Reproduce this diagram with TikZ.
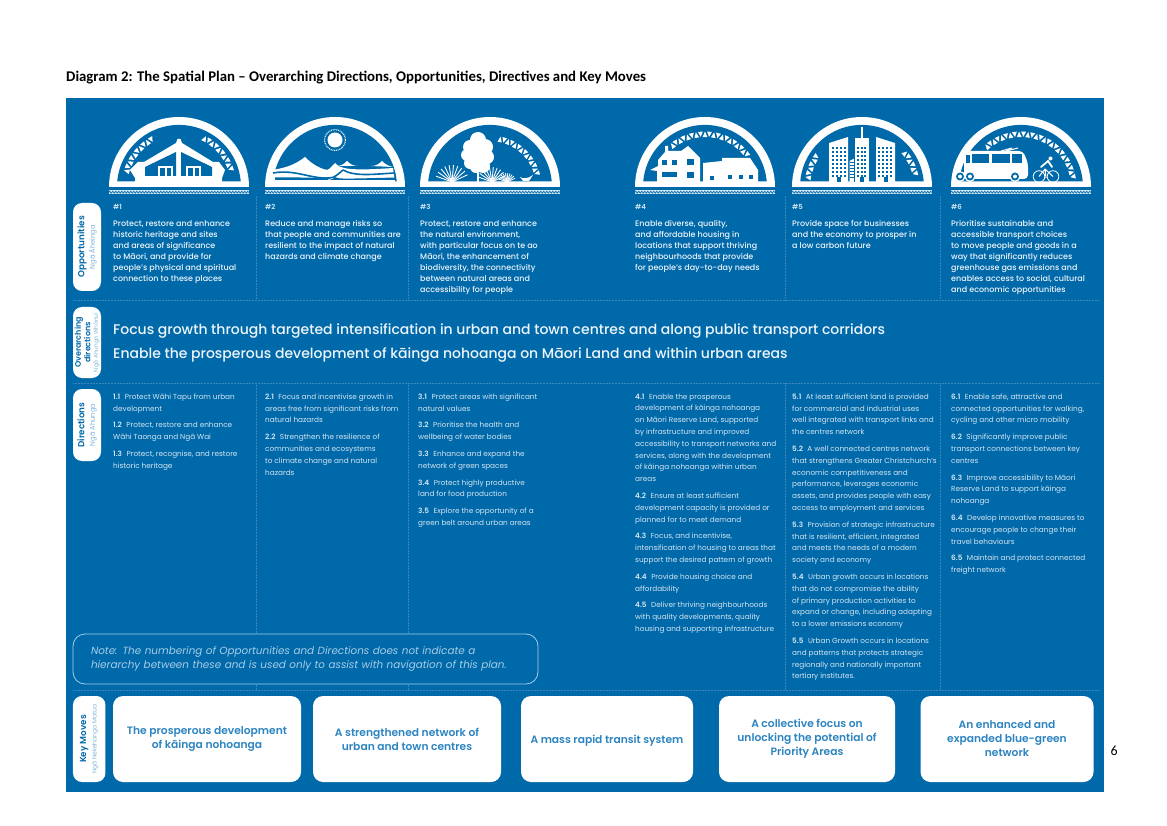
\documentclass[tikz,border=0pt]{standalone}
\usepackage{fontspec}
\setmainfont{Poppins}[BoldFont={Poppins SemiBold}]
\newfontfamily\titlefont{Carlito}
\newfontfamily\mediumfont{Poppins Medium}
\usetikzlibrary{decorations.pathmorphing}
\definecolor{mainblue}{HTML}{0069AA}
\definecolor{sepblue}{HTML}{3B86BA}
\definecolor{paleblue}{HTML}{D5E6F2}
\definecolor{oppcol}{HTML}{EEF5FA}
\definecolor{notecol}{HTML}{A9CDE6}
\definecolor{movecol}{HTML}{2C84C0}
\definecolor{subcol}{HTML}{7DB4DA}
\tikzset{
opptext/.style={anchor=north west,inner sep=0pt,align=left,text=oppcol,font=\mediumfont\fontsize{8}{10.9}\selectfont},
dirtext/.style={anchor=north west,inner sep=0pt,align=left,text=paleblue,font=\fontsize{7.3}{11.8}\selectfont},
numlabel/.style={anchor=west,inner sep=0pt,text=paleblue,font=\bfseries\fontsize{7}{8}\selectfont},
pill/.style={fill=white,rounded corners=9pt,rotate=90,align=center,inner sep=0pt,text=mainblue,font=\bfseries\fontsize{8.8}{10.5}\selectfont},
movebox/.style={fill=white,rounded corners=10pt,align=center,inner sep=0pt,minimum height=86pt,text=movecol,font=\bfseries\fontsize{10.7}{14}\selectfont,execute at begin node={\rule{0pt}{11.5pt}}},
headline/.style={anchor=west,inner sep=0pt,text=oppcol,font=\mediumfont\fontsize{14}{16}\selectfont},
seprule/.style={sepblue,line width=.5pt,densely dotted}
}
\newcommand{\subpill}[2][6.8]{{\mdseries\color{subcol}\fontsize{#1}{7}\selectfont #2}}
\newcommand{\dirnum}[1]{\textbf{#1}\hspace{4.5pt}}
% dome with its band, origin on the base line
\newcommand{\domeshape}[1]{
\begin{scope}[shift={(#1,187)}]
\fill[white] (-70,0) arc (180:360:70) -- cycle;
\fill[mainblue] (-61.76,-5.5) arc (185:355:62) -- cycle;
\fill[white!85!mainblue] (-70,3) rectangle (70,7.5);
\draw[mainblue,line width=.7pt,decorate,decoration={zigzag,segment length=3pt,amplitude=1pt}] (-70,5.2) -- (70,5.2);
\end{scope}
}
% small triangles along an arc
\newcommand{\trianglearc}[4]{
\foreach \a in {#1,#2,...,#3}{
\fill[white] ({\a-2.7}:#4) -- ({\a+2.7}:#4) -- (\a:#4+5.5) -- cycle;
\fill[white] ({\a+2.1}:#4+5.5) -- ({\a+7.2}:#4+5.5) -- ({\a+4.7}:#4+.3) -- cycle;
}
}
\begin{document}
\begin{tikzpicture}[x=1pt,y=-1pt]
\useasboundingbox (0,0) rectangle (1167,826);

\node (title) [anchor=west,inner sep=0pt,font=\titlefont\bfseries\fontsize{14.8}{16}\selectfont] at (66,78) {Diagram 2: The Spatial Plan – Overarching Directions, Opportunities, Directives and Key Moves};
\node (pagenum) [anchor=west,inner sep=0pt,font=\titlefont\fontsize{14}{16}\selectfont] at (1110.5,751) {6};

\fill[mainblue] (66,98) rectangle (1104,791.5);

% rules
\foreach \ry in {300,383,690}
\draw[seprule] (73,\ry) -- (1100,\ry);
\foreach \sx in {256,408,785,940}{
\draw[seprule] (\sx,196) -- (\sx,300);
\draw[seprule] (\sx,383) -- (\sx,690);
}

\foreach \cx in {179,335,490,705,862,1021}{
\domeshape{\cx}
}

% whare
\begin{scope}[shift={(179,187)}]
\trianglearc{197}{206.5}{240}{52}
\trianglearc{298}{307.5}{341}{52}
\fill[white] (-1.5,-48) -- (1.5,-48) -- (3,-44) -- (34,-25) -- (40,-25) -- (46,-17) -- (43,-9) -- (43,-5) -- (-44,-5) -- (-44,-9) -- (-49,-17) -- (-41,-25) -- (-35,-25) -- (-3,-44) -- cycle;
\fill[mainblue] (-3,-35) -- (-34,-20) -- (-34,-11) -- (-3,-11) -- cycle;
\fill[mainblue] (2,-35) -- (33,-20) -- (33,-11) -- (2,-11) -- cycle;
\fill[white] (-21,-21) rectangle (-6,-11);
\fill[white] (7,-21) rectangle (22,-11);
\fill[mainblue] (-19,-19) rectangle (-14.5,-11);
\fill[mainblue] (-12.5,-19) rectangle (-8,-11);
\fill[mainblue] (9,-19) rectangle (13.5,-11);
\fill[mainblue] (15.5,-19) rectangle (20,-11);
\end{scope}

% sun and waves
\begin{scope}[shift={(335,187)}]
\fill[white] (0,-47) circle (7.5);
\draw[white,line width=1pt,dash pattern=on 1pt off .8pt] (0,-47) circle (10.5);
\fill[white] (-62,-17) .. controls (-45,-20) and (-38,-24) .. (-30,-30) .. controls (-24,-24) and (-17,-19) .. (-8,-17) -- cycle;
\fill[white] (2,-21) .. controls (6,-21) and (9,-23) .. (12,-26) .. controls (15,-23) and (18,-21) .. (23,-21) -- cycle;
\fill[white] (36,-21) .. controls (41,-21) and (44,-23) .. (47,-26) .. controls (50,-23) and (53,-21) .. (58,-20) -- cycle;
\fill[white] (-62,-17) -- (-8,-17) .. controls (-5,-18) and (-3,-21) .. (0,-24) .. controls (5,-18) and (15,-16) .. (58,-19) -- (60,-5) -- (-62,-5) -- cycle;
\draw[mainblue,line width=1.6pt] (-62,-14) .. controls (-40,-18) and (-25,-8) .. (-6,-9) .. controls (0,-9) and (3,-13) .. (8,-17);
\draw[mainblue,line width=1.6pt] (8,-17) .. controls (20,-10) and (40,-13) .. (60,-14);
\fill[mainblue] (-60,-9.5) .. controls (-40,-10) and (-20,-9) .. (-10,-9) -- (-6,-7) .. controls (-3,-7) and (-1,-9) .. (0,-10) .. controls (3,-8) and (6,-8) .. (60,-9.5) -- (60,-7) -- (-60,-7) -- cycle;
\end{scope}

% tree, bushes and bird
\begin{scope}[shift={(490,187)}]
\trianglearc{282}{291.5}{346}{46}
\fill[white] (-12,-47) circle (8) (-20,-40) circle (7) (-5,-40) circle (8) (-23,-32) circle (6) (-3,-30) circle (7) (-13,-33) circle (11) (-20,-24) circle (6) (-7,-21) circle (7) (-14,-20) circle (6);
\draw[white,line width=1.5pt] (-12,-16) -- (-12,-5);
\foreach \a in {200,215,...,340}{
\draw[white,line width=.9pt] (-38,-5) -- ++(\a:17);
\draw[white,line width=.9pt] (2,-5) -- ++(\a:15);
\draw[white,line width=.8pt] (17,-5) -- ++(\a:9);
}
\fill[white] (30,-10) .. controls (33,-8) and (38,-8) .. (43,-12) -- (39,-6) -- (33,-6) -- cycle;
\end{scope}

% houses
\begin{scope}[shift={(705,187)}]
\trianglearc{232}{241.5}{320}{50}
\fill[white] (-47,-27) -- (-40,-35) -- (-40,-41) -- (-37,-41) -- (-37,-36) -- (-24,-36) -- (-17,-41) -- (-5,-29) -- (-5,-5) -- (-48,-5) -- (-48,-16) -- (-55,-17) -- (-47,-21) -- cycle;
\fill[mainblue] (-43.5,-27) rectangle (-38.5,-22);
\fill[mainblue] (-33.5,-27) rectangle (-28.5,-22);
\fill[mainblue] (-18.5,-28) rectangle (-11.5,-22);
\fill[mainblue] (-43.5,-15) rectangle (-28.5,-10);
\fill[mainblue] (-18.5,-15) rectangle (-11,-9);
\fill[white] (-2,-24) -- (17,-26) -- (17,-29) -- (45,-29) -- (53,-17) -- (53,-5) -- (-2,-5) -- cycle;
\foreach \dx/\dtop in {5/-11,23/-12,34/-12,44/-12}
\fill[mainblue] (\dx,\dtop) rectangle ++(3.5,4.5);
\end{scope}

% city
\begin{scope}[shift={(862,187)}]
\trianglearc{190}{199.5}{216}{52}
\trianglearc{322}{331.5}{346}{52}
\fill[white] (-33,-44) -- (-14,-50) -- (-14,-5) -- (-33,-5) -- cycle;
\fill[white] (14,-50) -- (33,-44) -- (33,-5) -- (14,-5) -- cycle;
\fill[white] (-7,-49) rectangle (7,-5);
\fill[white] (-.8,-60) rectangle (.8,-49);
\fill[white] (-12.5,-26) -- (-3,-31) -- (-3,-5) -- (-12.5,-5) -- cycle;
\fill[mainblue] (-8,-32) rectangle (-7,-5);
\foreach \wy in {-25,-22,...,-8}
\draw[mainblue,line width=.5pt] (-12.5,\wy) -- (-8,\wy);
\foreach \wx in {-30,-26,-22,-18,16,20,24,28,-5,-1.5,2}
\foreach \wy in {-40,-36,...,-12}
\fill[mainblue] (\wx,\wy) rectangle ++(2,2.2);
\fill[mainblue] (-25,-10) rectangle ++(3.5,5);
\fill[mainblue] (-1.7,-10) rectangle ++(3.5,5);
\fill[mainblue] (22,-10) rectangle ++(3.5,5);
\end{scope}

% bus and cyclist
\begin{scope}[shift={(1021,187)}]
\trianglearc{230}{239.5}{345}{50}
\draw[white,line width=1pt] (-20,-36) -- (-9,-39) (-15,-36) -- (-3,-39);
\fill[white,rounded corners=4pt] (-57,-36) -- (2,-36) -- (7,-24) -- (7,-8) -- (-57,-8) -- cycle;
\fill[mainblue] (-55,-32) -- (-51,-32) -- (-51,-24) -- (-55,-24) -- cycle;
\fill[mainblue] (-49,-33) rectangle (-32,-24);
\fill[mainblue] (-29.5,-33) rectangle (-11.5,-24);
\fill[mainblue] (-9,-33) rectangle (1,-24);
\foreach \wx in {-61,-51,-6}{
\fill[white] (\wx,-10.5) circle (5.5);
\fill[mainblue] (\wx,-10.5) circle (4);
\fill[white] (\wx,-10.5) circle (2);
}
\draw[white,line width=.8pt] (18,-10.5) circle (5.8) (32,-10.5) circle (5.8);
\draw[white,line width=1pt] (18,-10.5) -- (24,-18) -- (32,-10.5) (24,-18) -- (25,-9);
\draw[white,line width=1.8pt,line cap=round] (20,-20) -- (27,-26) -- (31,-20);
\fill[white] (29.5,-28.5) circle (2);
\end{scope}

% opportunities
\foreach \nx/\nn in {113/1,265/2,420/3,635/4,792/5,951/6}
\node (num\nn) [numlabel] at (\nx,207) {\#\nn};
\node (opp1) [opptext] at (113,220.5) {Protect, restore and enhance\\historic heritage and sites\\and areas of significance\\to Māori, and provide for\\people’s physical and spiritual\\connection to these places};
\node (opp2) [opptext] at (265,220.5) {Reduce and manage risks so\\that people and communities are\\resilient to the impact of natural\\hazards and climate change};
\node (opp3) [opptext] at (420,220.5) {Protect, restore and enhance\\the natural environment,\\with particular focus on te ao\\Māori, the enhancement of\\biodiversity, the connectivity\\between natural areas and\\accessibility for people};
\node (opp4) [opptext] at (635,220.5) {Enable diverse, quality,\\and affordable housing in\\locations that support thriving\\neighbourhoods that provide\\for people’s day-to-day needs};
\node (opp5) [opptext] at (792,220.5) {Provide space for businesses\\and the economy to prosper in\\a low carbon future};
\node (opp6) [opptext] at (951,220.5) {Prioritise sustainable and\\accessible transport choices\\to move people and goods in a\\way that significantly reduces\\greenhouse gas emissions and\\enables access to social, cultural\\and economic opportunities};

% overarching directions
\node (focus) [headline] at (113,331) {Focus growth through targeted intensification in urban and town centres and along public transport corridors};
\node (enable) [headline] at (113,355) {Enable the prosperous development of kāinga nohoanga on Māori Land and within urban areas};

% directions
\node (dir1) [dirtext] at (113,393.5) {\dirnum{1.1}Protect Wāhi Tapu from urban\\development\\[5pt]\dirnum{1.2}Protect, restore and enhance\\Wāhi Taonga and Ngā Wai\\[5pt]\dirnum{1.3}Protect, recognise, and restore\\historic heritage};
\node (dir2) [dirtext] at (265,393.5) {\dirnum{2.1}Focus and incentivise growth in\\areas free from significant risks from\\natural hazards\\[5pt]\dirnum{2.2}Strengthen the resilience of\\communities and ecosystems\\to climate change and natural\\hazards};
\node (dir3) [dirtext] at (418,393.5) {\dirnum{3.1}Protect areas with significant\\natural values\\[5pt]\dirnum{3.2}Prioritise the health and\\wellbeing of water bodies\\[5pt]\dirnum{3.3}Enhance and expand the\\network of green spaces\\[5pt]\dirnum{3.4}Protect highly productive\\land for food production\\[5pt]\dirnum{3.5}Explore the opportunity of a\\green belt around urban areas};
\node (dir4) [dirtext] at (635,393.5) {\dirnum{4.1}Enable the prosperous\\development of kāinga nohoanga\\on Māori Reserve Land, supported\\by infrastructure and improved\\accessibility to transport networks and\\services, along with the development\\of kāinga nohoanga within urban\\areas\\[5pt]\dirnum{4.2}Ensure at least sufficient\\development capacity is provided or\\planned for to meet demand\\[5pt]\dirnum{4.3}Focus, and incentivise,\\intensification of housing to areas that\\support the desired pattern of growth\\[5pt]\dirnum{4.4}Provide housing choice and\\affordability\\[5pt]\dirnum{4.5}Deliver thriving neighbourhoods\\with quality developments, quality\\housing and supporting infrastructure};
\node (dir5) [dirtext] at (792,393.5) {\dirnum{5.1}At least sufficient land is provided\\for commercial and industrial uses\\well integrated with transport links and\\the centres network\\[5pt]\dirnum{5.2}A well connected centres network\\that strengthens Greater Christchurch’s\\economic competitiveness and\\performance, leverages economic\\assets, and provides people with easy\\access to employment and services\\[5pt]\dirnum{5.3}Provision of strategic infrastructure\\that is resilient, efficient, integrated\\and meets the needs of a modern\\society and economy\\[5pt]\dirnum{5.4}Urban growth occurs in locations\\that do not compromise the ability\\of primary production activities to\\expand or change, including adapting\\to a lower emissions economy\\[5pt]\dirnum{5.5}Urban Growth occurs in locations\\and patterns that protects strategic\\regionally and nationally important\\tertiary institutes.};
\node (dir6) [dirtext] at (951,393.5) {\dirnum{6.1}Enable safe, attractive and\\connected opportunities for walking,\\cycling and other micro mobility\\[5pt]\dirnum{6.2}Significantly improve public\\transport connections between key\\centres\\[5pt]\dirnum{6.3}Improve accessibility to Māori\\Reserve Land to support kāinga\\nohoanga\\[5pt]\dirnum{6.4}Develop innovative measures to\\encourage people to change their\\travel behaviours\\[5pt]\dirnum{6.5}Maintain and protect connected\\freight network};

% note
\node (note) [draw=notecol,fill=mainblue,line width=.8pt,rounded corners=12pt,minimum width=465pt,minimum height=50pt,inner sep=0pt,text width=429pt,align=left,text=notecol,font=\itshape\fontsize{10.4}{14}\selectfont] at (305.5,659) {Note: The numbering of Opportunities and Directions does not indicate a\\hierarchy between these and is used only to assist with navigation of this plan.};

% side labels
\node (opppill) [pill,minimum width=88pt,minimum height=28pt] at (87,247) {Opportunities\\\subpill{Ngā Āheinga}};
\node (overpill) [pill,minimum width=71pt,minimum height=28pt,font=\bfseries\fontsize{8}{7.6}\selectfont] at (87,342.5) {Overarching\\directions\\\subpill[5.7]{Ngā Ahunga Whānui}};
\node (dirpill) [pill,minimum width=72pt,minimum height=28pt] at (87,425) {Directions\\\subpill{Ngā Ahunga}};
\node (keypill) [pill,minimum width=86pt,minimum height=32.5pt] at (89.2,739) {Key Moves\\\subpill[6]{Ngā Nekehanga Matua}};

% key moves
\node (move1) [movebox,minimum width=188pt] at (207,739) {The prosperous development\\of kāinga nohoanga};
\node (move2) [movebox,minimum width=188pt] at (407,739) {A strengthened network of\\urban and town centres};
\node (move3) [movebox,minimum width=172pt] at (607,739) {A mass rapid transit system};
\node (move4) [movebox,minimum width=176pt] at (807,739) {A collective focus on\\unlocking the potential of\\Priority Areas};
\node (move5) [movebox,minimum width=173pt] at (1007,739) {An enhanced and\\expanded blue-green\\network};
\end{tikzpicture}
\end{document}
